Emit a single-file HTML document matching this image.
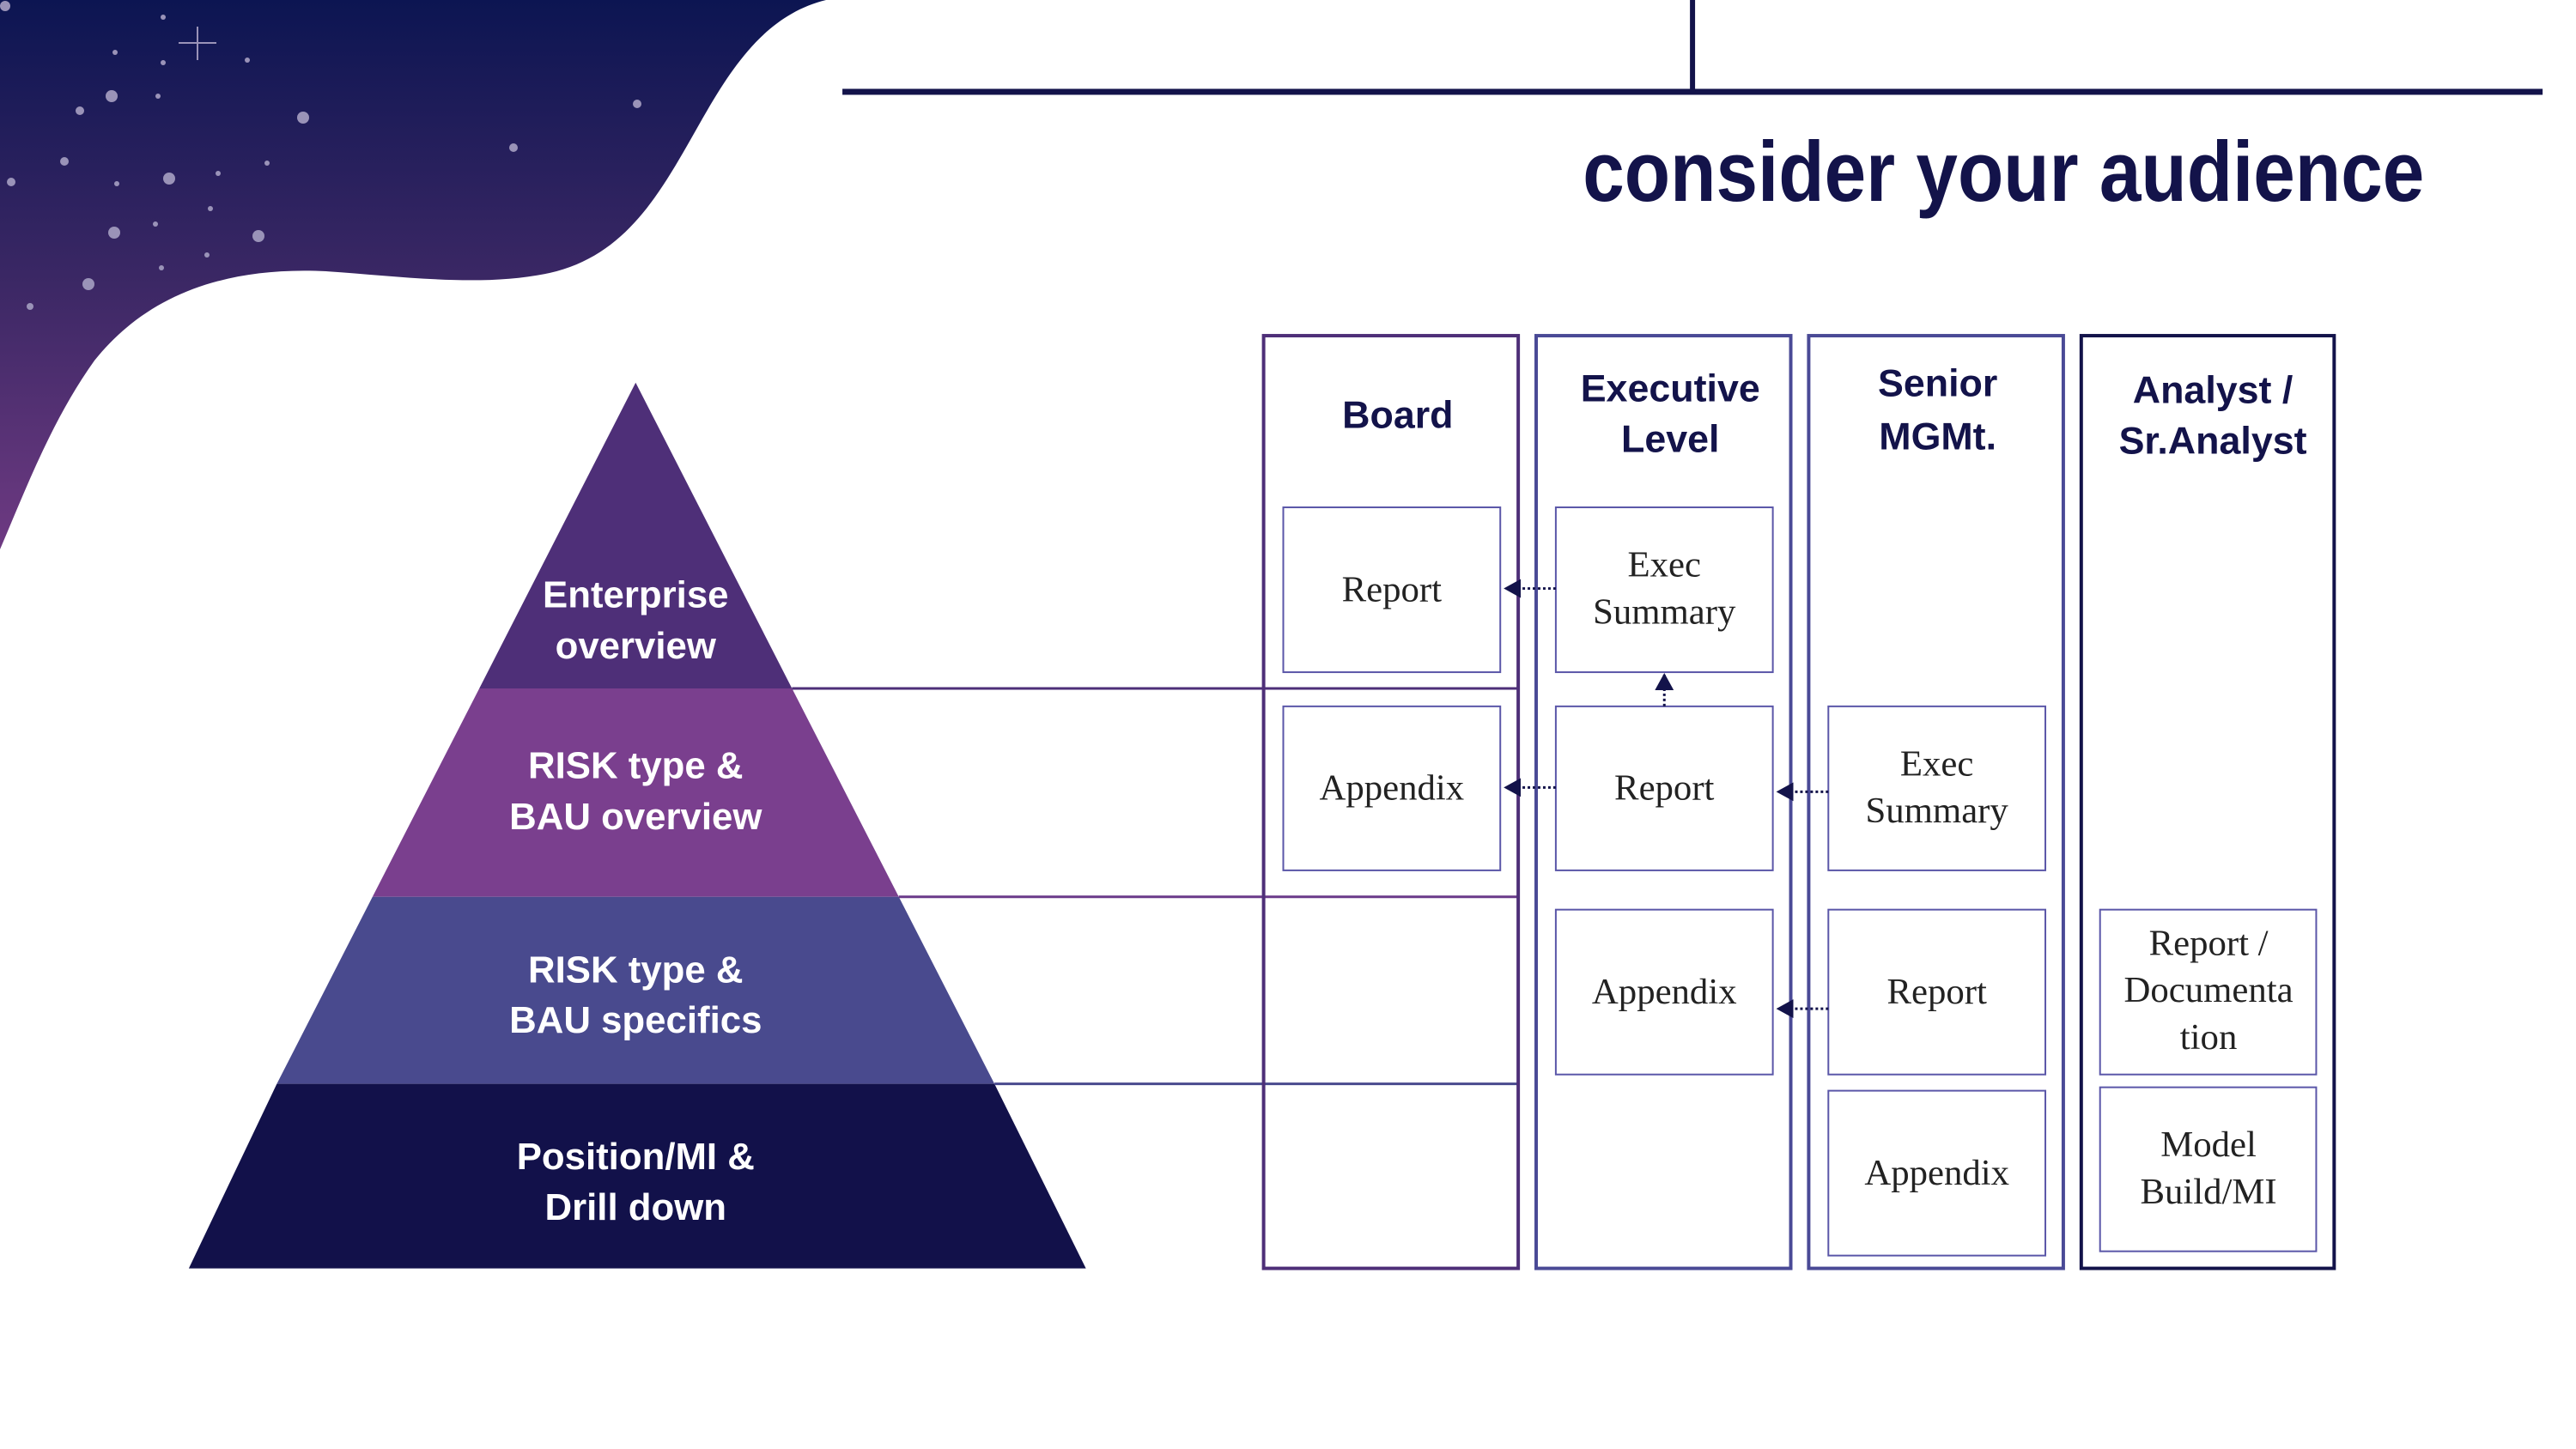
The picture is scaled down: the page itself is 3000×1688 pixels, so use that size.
<!DOCTYPE html>
<html><head><meta charset="utf-8"><style>
html,body{margin:0;padding:0;background:#fff;}
svg{display:block;}
.h{font-family:"Liberation Sans",sans-serif;font-weight:bold;font-size:45px;fill:#13134a;text-anchor:middle;}
.b{font-family:"Liberation Serif",serif;font-size:43px;fill:#222;text-anchor:middle;}
.p{font-family:"Liberation Sans",sans-serif;font-weight:bold;font-size:44px;fill:#fff;text-anchor:middle;}
</style></head><body>
<svg width="3000" height="1688" viewBox="0 0 3000 1688" xmlns="http://www.w3.org/2000/svg">
<defs>
<linearGradient id="sky" x1="0" y1="0" x2="0" y2="1">
<stop offset="0" stop-color="#0c1552"/><stop offset="0.5" stop-color="#3a2764"/><stop offset="1" stop-color="#6e3a82"/>
</linearGradient>
<marker id="ah" markerWidth="20" markerHeight="22" refX="18" refY="11" orient="auto" markerUnits="userSpaceOnUse" viewBox="0 0 20 22"><path d="M0,0 L20,11 L0,22 z" fill="#13134a"/></marker>
</defs>
<path d="M0,0 L962,0 C880,20 840,100 800,170 C760,240 720,300 640,318 C560,335 470,322 380,316 C260,310 170,345 110,420 C60,490 30,570 0,640 Z" fill="url(#sky)"/>
<g fill="#9a93b8">
<circle cx="6" cy="7" r="6"/><circle cx="190" cy="20" r="3"/><circle cx="134" cy="61" r="3"/><circle cx="190" cy="73" r="3"/><circle cx="288" cy="70" r="3"/>
<circle cx="130" cy="112" r="7"/><circle cx="184" cy="112" r="3"/><circle cx="93" cy="129" r="5"/><circle cx="353" cy="137" r="7"/>
<circle cx="742" cy="121" r="5"/><circle cx="598" cy="172" r="5"/><circle cx="75" cy="188" r="5"/><circle cx="311" cy="190" r="3"/>
<circle cx="13" cy="212" r="5"/><circle cx="136" cy="214" r="3"/><circle cx="197" cy="208" r="7"/><circle cx="254" cy="202" r="3"/>
<circle cx="245" cy="243" r="3"/><circle cx="181" cy="261" r="3"/><circle cx="133" cy="271" r="7"/><circle cx="301" cy="275" r="7"/>
<circle cx="241" cy="297" r="3"/><circle cx="188" cy="312" r="3"/><circle cx="103" cy="331" r="7"/><circle cx="35" cy="357" r="4"/>
</g>
<path d="M208,50 L252,50 M230,31 L230,70" stroke="#9a93b8" stroke-width="2"/>
<g transform="scale(0.995)">
<rect x="986" y="104" width="1990" height="7" fill="#13134a"/>
<rect x="1978" y="0" width="6" height="108" fill="#13134a"/>
<text x="2345" y="235" font-family="Liberation Sans, sans-serif" font-weight="bold" font-size="100" fill="#13134a" text-anchor="middle" textLength="985" lengthAdjust="spacingAndGlyphs">consider your audience</text>
<polygon points="744,448 927,806 561,806" fill="#4e2f78"/>
<polygon points="561,806 927,806 1052,1050 436,1050" fill="#7a3f8e"/>
<polygon points="436,1050 1052,1050 1164,1269 324,1269" fill="#494a8e"/>
<polygon points="324,1269 1164,1269 1271,1485 221,1485" fill="#12114a"/>
<line x1="927" y1="806" x2="1777" y2="806" stroke="#4e2f78" stroke-width="3"/>
<line x1="1052" y1="1050" x2="1777" y2="1050" stroke="#6a3a8a" stroke-width="3"/>
<line x1="1164" y1="1269" x2="1777" y2="1269" stroke="#494a8e" stroke-width="3"/>
<text class="p" x="744" y="711">Enterprise</text><text class="p" x="744" y="771">overview</text>
<text class="p" x="744" y="911">RISK type &amp;</text><text class="p" x="744" y="971">BAU overview</text>
<text class="p" x="744" y="1150">RISK type &amp;</text><text class="p" x="744" y="1209">BAU specifics</text>
<text class="p" x="744" y="1369">Position/MI &amp;</text><text class="p" x="744" y="1428">Drill down</text>
<g fill="none" stroke-width="4">
<rect x="1479" y="393" width="298" height="1092" stroke="#4e2f78"/>
<rect x="1798" y="393" width="298" height="1092" stroke="#4a4a96"/>
<rect x="2117" y="393" width="298" height="1092" stroke="#4a4a96"/>
<rect x="2436" y="393" width="296" height="1092" stroke="#13134a"/>
</g>
<text class="h" x="1636" y="501">Board</text>
<text class="h" x="1955" y="470">Executive</text><text class="h" x="1955" y="529">Level</text>
<text class="h" x="2268" y="464">Senior</text><text class="h" x="2268" y="526">MGMt.</text>
<text class="h" x="2590" y="472">Analyst /</text><text class="h" x="2590" y="531">Sr.Analyst</text>
<g fill="#fff" stroke="#5a56a8" stroke-width="2">
<rect x="1502" y="594" width="254" height="193"/><rect x="1502" y="827" width="254" height="192"/>
<rect x="1821" y="594" width="254" height="193"/><rect x="1821" y="827" width="254" height="192"/><rect x="1821" y="1065" width="254" height="193"/>
<rect x="2140" y="827" width="254" height="192"/><rect x="2140" y="1065" width="254" height="193"/><rect x="2140" y="1277" width="254" height="193"/>
<rect x="2458" y="1065" width="253" height="193"/><rect x="2458" y="1273" width="253" height="192"/>
</g>
<text class="b" x="1629" y="704">Report</text>
<text class="b" x="1629" y="936">Appendix</text>
<text class="b" x="1948" y="675">Exec</text><text class="b" x="1948" y="730">Summary</text>
<text class="b" x="1948" y="936">Report</text>
<text class="b" x="1948" y="1175">Appendix</text>
<text class="b" x="2267" y="908">Exec</text><text class="b" x="2267" y="963">Summary</text>
<text class="b" x="2267" y="1175">Report</text>
<text class="b" x="2267" y="1387">Appendix</text>
<text class="b" x="2585" y="1118">Report /</text><text class="b" x="2585" y="1173">Documenta</text><text class="b" x="2585" y="1228">tion</text>
<text class="b" x="2585" y="1354">Model</text><text class="b" x="2585" y="1409">Build/MI</text>
<g stroke="#13134a" stroke-width="3" stroke-dasharray="3,3" marker-end="url(#ah)">
<line x1="1821" y1="689" x2="1762" y2="689"/>
<line x1="1821" y1="922" x2="1762" y2="922"/>
<line x1="2140" y1="927" x2="2081" y2="927"/>
<line x1="2140" y1="1181" x2="2081" y2="1181"/>
<line x1="1948" y1="827" x2="1948" y2="790"/>
</g>
</g>
</svg>
</body></html>
